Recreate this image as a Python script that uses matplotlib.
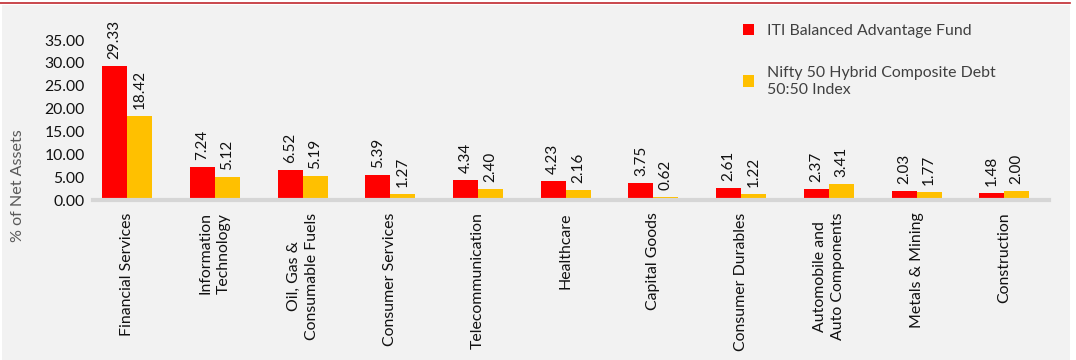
import matplotlib.pyplot as plt
import matplotlib.patches as mpatches
from matplotlib.lines import Line2D
import numpy as np

categories = ["Financial Services", "Information\nTechnology", "Oil, Gas &\nConsumable Fuels",
              "Consumer Services", "Telecommunication", "Healthcare", "Capital Goods",
              "Consumer Durables", "Automobile and\nAuto Components", "Metals & Mining",
              "Construction"]
fund = [29.33, 7.24, 6.52, 5.39, 4.34, 4.23, 3.75, 2.61, 2.37, 2.03, 1.48]
bench = [18.42, 5.12, 5.19, 1.27, 2.40, 2.16, 0.62, 1.22, 3.41, 1.77, 2.00]
yticks = [0, 5, 10, 15, 20, 25, 30, 35]

plt.rcParams['font.family'] = ['Lato', 'DejaVu Sans']

W, H = 1076, 360
fig = plt.figure(figsize=(W / 100, H / 100), dpi=100, facecolor="white")

# grey panel and red rule on top
fig.patches.append(mpatches.Rectangle((2 / W, 0), 1068 / W, 355 / H, transform=fig.transFigure,
                                      facecolor="#f2f2f2", edgecolor="none", zorder=-5))
fig.lines.append(Line2D([0, 1070 / W], [1 - 3 / H, 1 - 3 / H], transform=fig.transFigure,
                        color="#c0272d", lw=1.2))

ax = fig.add_axes([93 / W, (H - 200) / H, (1049 - 93) / W, 160 / H])
ax.set_facecolor("none")

x = np.arange(len(categories))
bw = 0.285
b1 = ax.bar(x - bw / 2, fund, bw, color="#ff0000", label="ITI Balanced Advantage Fund", zorder=2)
b2 = ax.bar(x + bw / 2, bench, bw, color="#ffc000",
            label="Nifty 50 Hybrid Composite Debt\n50:50 Index", zorder=2)

for bars, vals in ((b1, fund), (b2, bench)):
    for r, v in zip(bars, vals):
        ax.annotate(f"{v:.2f}", (r.get_x() + r.get_width() / 2, v), xytext=(0, 5),
                    textcoords="offset points", rotation=90, ha="center", va="bottom",
                    fontsize=11, color="#111111")

ax.set_xlim(-0.39, 10.51)
ax.set_ylim(0, 35)
ax.set_yticks(yticks)
ax.set_yticklabels([f"{t:.2f}" for t in yticks], fontsize=11.3, color="#111111")
ax.set_xticks(x)
ax.set_xticklabels(categories, rotation=90, fontsize=11.4, color="#111111",
                   linespacing=1.35, va="top", ha="center")
ax.tick_params(length=0, pad=6)
ax.tick_params(axis="x", pad=9)

for s in ("top", "right", "left"):
    ax.spines[s].set_visible(False)
ax.spines["bottom"].set_color("#d6d6d6")
ax.spines["bottom"].set_linewidth(3)

fig.text(18 / W, 1 - 186 / H, "% of Net Assets", rotation=90, ha="center", va="center",
         fontsize=11.6, color="#595959")

leg = ax.legend(loc="upper left", bbox_to_anchor=(729 / W, 1 - 10 / H),
                bbox_transform=fig.transFigure, frameon=False, fontsize=11.4,
                handlelength=0.6, handleheight=0.6, handletextpad=0.9, labelspacing=1.75,
                labelcolor="#404040")
for h in leg.legend_handles:
    h.set_height(8)
    h.set_width(8)
for t in leg.get_texts():
    t.set_linespacing(1.3)

fig.savefig("out.png", dpi=100, facecolor=fig.get_facecolor())
